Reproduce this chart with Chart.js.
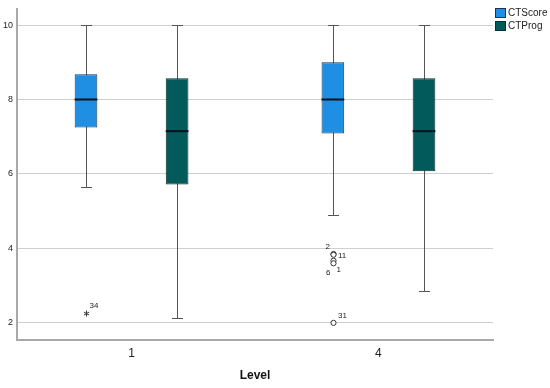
<!DOCTYPE html>
<html lang="en">
<head>
  <meta charset="UTF-8">
  <title>CTScore / CTProg by Level</title>
  <script src="https://cdn.jsdelivr.net/npm/chart.js"></script>
  <style>
    html, body { margin: 0; padding: 0; background: #fff; }
    #wrap { width: 550px; height: 388px; }
  </style>
</head>
<body>
  <div id="wrap"><canvas id="boxChart"></canvas></div>

  <script>
    // data
    const levels = ['1', '4'];
    const seriesNames = ['CTScore', 'CTProg'];
    const yTicks = [2, 4, 6, 8, 10];

    const ctScoreMin = [5.66, 4.91];
    const ctScoreQ1 = [7.25, 7.09];
    const ctScoreMedian = [8.0, 8.0];
    const ctScoreQ3 = [8.68, 9.0];
    const ctScoreMax = [10, 10];

    const ctProgMin = [2.14, 2.85];
    const ctProgQ1 = [5.72, 6.07];
    const ctProgMedian = [7.15, 7.15];
    const ctProgQ3 = [8.57, 8.57];
    const ctProgMax = [10, 10];

    // outliers per level: [value, case id, extreme?]
    const ctScoreOutliers = [
      [[2.25, '34', true]],
      [[3.85, '2', false], [3.83, '11', false], [3.67, '6', false], [3.6, '1', false], [2.0, '31', false]]
    ];
    const ctProgOutliers = [[], []];

    // styling
    const colors = ['#1E8FE3', '#025B5A'];
    const borderColors = ['#1A3550', '#0B2E2E'];
    const labelOffsets = { // dx, dy, align
      '34': [3, -8, 'left'], '31': [4.5, -7.5, 'left'], '2': [-3.5, -7, 'right'],
      '11': [4.5, 1, 'left'], '1': [3, 6, 'left'], '6': [-3, 12, 'right']
    };

    const stats = [
      { min: ctScoreMin, q1: ctScoreQ1, med: ctScoreMedian, q3: ctScoreQ3, max: ctScoreMax, out: ctScoreOutliers },
      { min: ctProgMin, q1: ctProgQ1, med: ctProgMedian, q3: ctProgQ3, max: ctProgMax, out: ctProgOutliers }
    ];

    Chart.defaults.font.family = "'Liberation Sans', Arial, sans-serif";
    Chart.defaults.color = '#222';

    const boxPlugin = {
      id: 'boxExtras',
      beforeDatasetsDraw(chart) {
        // whiskers behind the boxes
        const ctx = chart.ctx, y = chart.scales.y;
        ctx.save();
        ctx.strokeStyle = '#555';
        ctx.lineWidth = 1;
        stats.forEach((s, d) => {
          chart.getDatasetMeta(d).data.forEach((bar, i) => {
            const x = Math.round(bar.x) + 0.5;
            const yMin = Math.round(y.getPixelForValue(s.min[i])) + 0.5;
            const yMax = Math.round(y.getPixelForValue(s.max[i])) + 0.5;
            ctx.beginPath();
            ctx.moveTo(x, yMax); ctx.lineTo(x, yMin);
            ctx.moveTo(x - 5.5, yMax); ctx.lineTo(x + 5.5, yMax);
            ctx.moveTo(x - 5.5, yMin); ctx.lineTo(x + 5.5, yMin);
            ctx.stroke();
          });
        });
        ctx.restore();
      },
      afterDatasetsDraw(chart) {
        const ctx = chart.ctx, y = chart.scales.y;
        ctx.save();
        stats.forEach((s, d) => {
          chart.getDatasetMeta(d).data.forEach((bar, i) => {
            const half = bar.width / 2;
            const ym = y.getPixelForValue(s.med[i]);
            ctx.strokeStyle = '#08121c';
            ctx.lineWidth = 2;
            ctx.beginPath();
            ctx.moveTo(bar.x - half, ym); ctx.lineTo(bar.x + half, ym);
            ctx.stroke();

            s.out[i].forEach(([v, id, extreme]) => {
              const px = Math.round(bar.x) + 0.5, py = y.getPixelForValue(v);
              ctx.strokeStyle = '#333';
              ctx.lineWidth = 1;
              if (extreme) {
                ctx.beginPath();
                for (let k = 0; k < 3; k++) {
                  const a = Math.PI / 2 + k * Math.PI / 3;
                  ctx.moveTo(px - 3 * Math.cos(a), py - 3 * Math.sin(a));
                  ctx.lineTo(px + 3 * Math.cos(a), py + 3 * Math.sin(a));
                }
                ctx.stroke();
              } else {
                ctx.fillStyle = '#fff';
                ctx.beginPath();
                ctx.arc(px, py, 2.6, 0, Math.PI * 2);
                ctx.fill();
                ctx.stroke();
              }
              const off = labelOffsets[id] || [4, -6, 'left'];
              ctx.fillStyle = '#222';
              ctx.font = "8px 'Liberation Sans', Arial, sans-serif";
              ctx.textAlign = off[2];
              ctx.textBaseline = 'middle';
              ctx.fillText(id, px + off[0], py + off[1]);
            });
          });
        });
        ctx.restore();
      },
      afterDraw(chart) {
        // legend at top right
        const ctx = chart.ctx;
        ctx.save();
        ctx.font = "10px 'Liberation Sans', Arial, sans-serif";
        ctx.textBaseline = 'middle';
        ctx.textAlign = 'left';
        seriesNames.forEach((name, k) => {
          const top = 8 + k * 13;
          ctx.fillStyle = colors[k];
          ctx.fillRect(495.5, top + 0.5, 10, 9);
          ctx.strokeStyle = borderColors[k];
          ctx.lineWidth = 1;
          ctx.strokeRect(495.5, top + 0.5, 10, 9);
          ctx.fillStyle = '#222';
          ctx.fillText(name, 508, top + 5.5);
        });
        ctx.restore();
      }
    };

    new Chart(document.getElementById('boxChart'), {
      type: 'bar',
      data: {
        datasets: stats.map((s, d) => ({
          label: seriesNames[d],
          data: levels.map((l, i) => ({ x: i, y: [s.q1[i], s.q3[i]] })),
          backgroundColor: colors[d],
          borderColor: borderColors[d],
          borderWidth: 1,
          borderSkipped: false,
          categoryPercentage: 0.738,
          barPercentage: 0.249
        }))
      },
      options: {
        responsive: true,
        maintainAspectRatio: false,
        animation: false,
        layout: { padding: { top: 7, right: 57, left: 0, bottom: 0 } },
        plugins: { legend: { display: false }, tooltip: { enabled: false } },
        scales: {
          x: {
            type: 'linear',
            offset: false,
            min: -0.464,
            max: 1.464,
            afterBuildTicks: (axis) => { axis.ticks = levels.map((l, i) => ({ value: i })); },
            afterFit: (axis) => { axis.height = 48; },
            ticks: {
              padding: 6,
              font: { size: 12 },
              color: '#222',
              callback: (v) => levels[v]
            },
            grid: { display: false, drawTicks: false, offset: false },
            border: { display: true, color: '#a9a9a9', width: 2 },
            title: {
              display: true,
              text: 'Level',
              font: { size: 12, weight: 'bold' },
              color: '#111',
              padding: { top: 0, bottom: 5 }
            }
          },
          y: {
            min: 1.54,
            max: 10.42,
            afterBuildTicks: (axis) => { axis.ticks = yTicks.map(v => ({ value: v })); },
            afterFit: (axis) => { axis.width = 17; },
            ticks: { padding: 4, font: { size: 9 }, color: '#222' },
            grid: { color: '#cfcfcf', lineWidth: 1, drawTicks: false },
            border: { display: true, color: '#a9a9a9', width: 2 }
          }
        }
      },
      plugins: [boxPlugin]
    });
  </script>
</body>
</html>
